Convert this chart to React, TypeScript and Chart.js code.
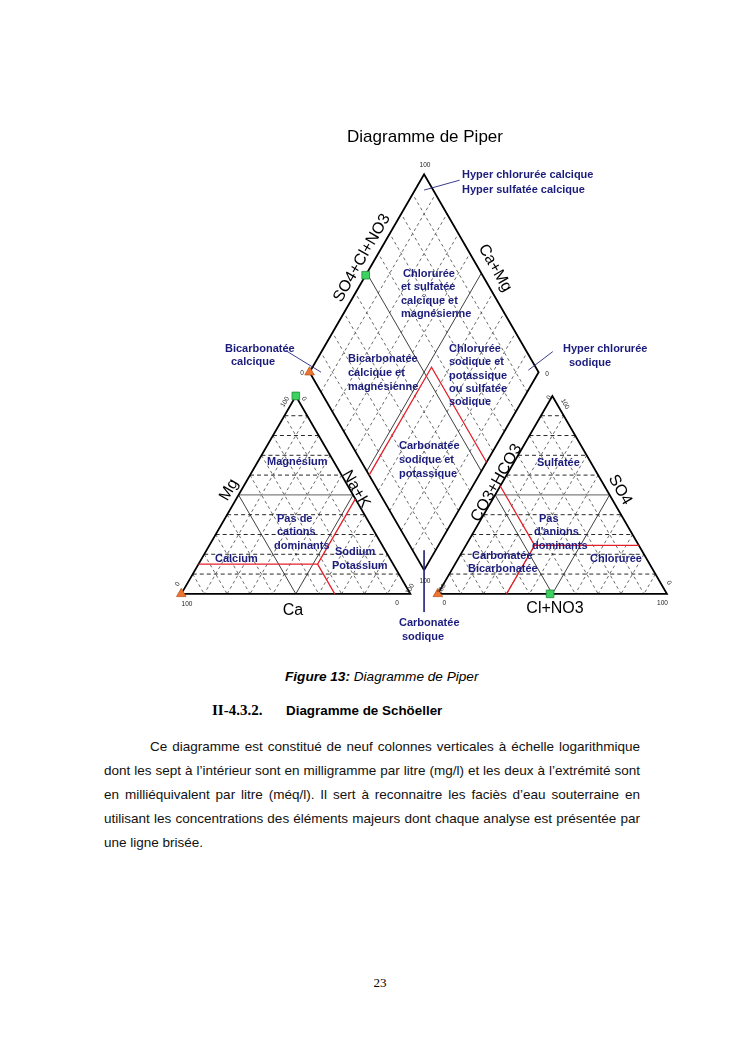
import React, { useEffect, useRef } from "react";
import { Chart, registerables } from "chart.js";

Chart.register(...registerables);

// ---------------- data ----------------
const gridTicks = [10, 20, 30, 40, 50, 60, 70, 80, 90];
const midTick = 50;
const cationAxisTitles = ["Ca", "Mg", "Na+K"];
const anionAxisTitles = ["CO3+HCO3", "SO4", "Cl+NO3"];
const diamondAxisTitles = ["SO4+Cl+NO3", "Ca+Mg", "Na+K", "CO3+HCO3"];

// samples, % meq/l
const sampleCa = [0, 100];
const sampleMg = [100, 0];
const sampleNaK = [0, 0];
const sampleCO3HCO3 = [51, 100];
const sampleSO4 = [0, 0];
const sampleClNO3 = [49, 0];

// red facies boundaries: junction points (%)
const cationJunction = [33, 15, 52]; // Ca, Mg, Na+K
const anionJunction = [45.5, 24.5, 30]; // CO3+HCO3, SO4, Cl+NO3

// ---------------- geometry (triangle side = 100 units) ----------------
const K = 2.33; // px per unit
const ORIGIN_X = 178;
const ORIGIN_Y = 599;
const CW = 745;
const CH = 660;
const H = Math.sqrt(3) / 2;
const GAP = 12;
const RX = 100 + GAP;
const BX = 100 + GAP / 2;
const BY = GAP * H;

type Pt = { x: number; y: number | null };
const cat = (ca: number, mg: number, nak: number): Pt => ({ x: nak + mg / 2, y: mg * H });
const an = (co3: number, so4: number, cl: number): Pt => ({ x: RX + cl + so4 / 2, y: so4 * H });
const dia = (a: number, b: number): Pt => ({ x: BX + (b - a) / 2, y: BY + (a + b) * H });
const BRK: Pt = { x: 0, y: null };
const segs = (list: Pt[][]) => {
  const out: Pt[] = [];
  list.forEach((poly) => {
    poly.forEach((p) => out.push(p));
    out.push(BRK);
  });
  return out;
};

function buildDatasets() {
  const dashed = gridTicks.filter((t) => t !== midTick);
  const horiz: Pt[][] = [];
  const diag: Pt[][] = [];
  dashed.forEach((t) => {
    horiz.push([cat(100 - t, t, 0), cat(0, t, 100 - t)]);
    horiz.push([an(100 - t, t, 0), an(0, t, 100 - t)]);
    diag.push([cat(t, 100 - t, 0), cat(t, 0, 100 - t)]);
    diag.push([cat(0, 100 - t, t), cat(100 - t, 0, t)]);
    diag.push([an(t, 100 - t, 0), an(t, 0, 100 - t)]);
    diag.push([an(0, 100 - t, t), an(100 - t, 0, t)]);
    diag.push([dia(t, 0), dia(t, 100)]);
    diag.push([dia(0, t), dia(100, t)]);
  });
  const m = midTick;
  const midH = [
    [cat(100 - m, m, 0), cat(0, m, 100 - m)],
    [an(100 - m, m, 0), an(0, m, 100 - m)],
  ];
  const midD = [
    [cat(m, 100 - m, 0), cat(m, 0, 100 - m)],
    [cat(0, 100 - m, m), cat(100 - m, 0, m)],
    [an(m, 100 - m, 0), an(m, 0, 100 - m)],
    [an(0, 100 - m, m), an(100 - m, 0, m)],
    [dia(m, 0), dia(m, 100)],
    [dia(0, m), dia(100, m)],
  ];
  const outline = [
    [cat(100, 0, 0), cat(0, 0, 100), cat(0, 100, 0), cat(100, 0, 0)],
    [an(100, 0, 0), an(0, 0, 100), an(0, 100, 0), an(100, 0, 0)],
    [dia(0, 0), dia(100, 0), dia(100, 100), dia(0, 100), dia(0, 0)],
  ];
  const [cj, mj, nj] = cationJunction;
  const [aj, sj, lj] = anionJunction;
  const JC = cat(cj, mj, nj);
  const JA = an(aj, sj, lj);
  const aR = 100 - nj;
  const bR = 100 - aj;
  const red = [
    [cat(100 - mj, mj, 0), JC],
    [JC, cat(cj, 0, 100 - cj)],
    [JC, cat(0, 100 - nj, nj)],
    [an(aj, 100 - aj, 0), JA],
    [JA, an(0, sj, 100 - sj)],
    [JA, an(100 - lj, 0, lj)],
    [dia(aR, 0), dia(aR, bR), dia(0, bR)],
  ];
  const leaders = [
    [dia(96, 96), dia(83, 114)],
    [dia(5, 96), dia(-1, 111.4)],
    [dia(95, 5), dia(116, -5)],
    [dia(5, 5), dia(-10.6, -10.6)],
  ];
  const catPts = sampleCa.map((c, i) => cat(c, sampleMg[i], sampleNaK[i]));
  const anPts = sampleCO3HCO3.map((c, i) => an(c, sampleSO4[i], sampleClNO3[i]));
  const diaPts = sampleCa.map((c, i) => dia(c + sampleMg[i], sampleSO4[i] + sampleClNO3[i]));
  const all = [...catPts, ...anPts, ...diaPts];
  const isGreen = (i: number) => i % 2 === 0;
  const green = all.filter((_, i) => isGreen(i));
  const orange = all.filter((_, i) => !isGreen(i));

  const line = (data: Pt[], color: string, width: number, dash: number[] = []) => ({
    data,
    showLine: true,
    borderColor: color,
    borderWidth: width,
    borderDash: dash,
    pointRadius: 0,
    fill: false,
    spanGaps: false,
  });
  return [
    {
      data: green,
      showLine: false,
      pointStyle: "rect",
      pointRadius: 5.4,
      backgroundColor: "#3dd160",
      borderColor: "#1f8a3a",
      borderWidth: 0.8,
    },
    {
      data: orange,
      showLine: false,
      pointStyle: "triangle",
      pointRadius: 5.5,
      backgroundColor: "#ec7530",
      borderColor: "#c0561c",
      borderWidth: 0.8,
    },
    line(segs(red), "#e3202a", 1.3),
    line(segs(leaders), "#26267e", 0.9),
    line(segs(outline), "#000000", 1.8),
    line(segs(midD), "#2a2a2a", 0.9),
    line(segs(midH), "#808080", 1.3),
    line(segs(horiz), "#111111", 0.9, [4, 3]),
    line(segs(diag), "#444444", 0.8, [3, 3]),
  ];
}

// ---------------- annotation layout (page px) ----------------
const SANS = '"Liberation Sans", Arial, Helvetica, sans-serif';
const NAVY = "#1c1c7c";
type Lab = { t: string; x: number; y: number; font: string; color: string; align: CanvasTextAlign; base: CanvasTextBaseline; rot?: number };
const RF = `bold 11px ${SANS}`;
const region = (t: string, x: number, y: number): Lab => ({ t, x, y, font: RF, color: NAVY, align: "left", base: "alphabetic" });
const AF = `16px ${SANS}`;
const axis = (t: string, x: number, y: number, rot: number): Lab => ({ t, x, y, font: AF, color: "#000", align: "center", base: "middle", rot });
const TF = `6.5px ${SANS}`;
const tick = (t: string, x: number, y: number, rot = 0): Lab => ({ t, x, y, font: TF, color: "#222", align: "center", base: "middle", rot });

const LABELS: Lab[] = [
  { t: "Diagramme de Piper", x: 425, y: 142, font: `17px ${SANS}`, color: "#000", align: "center", base: "alphabetic" },
  region("Hyper chlorurée calcique", 462, 178),
  region("Hyper sulfatée calcique", 462, 193),
  region("Chlorurée", 403, 277),
  region("et sulfatée", 401, 290),
  region("calcique et", 401, 304),
  region("magnésienne", 401, 317),
  region("Bicarbonatée", 348, 362),
  region("calcique et", 348, 376),
  region("magnésienne", 348, 390),
  region("Chlorurée", 449, 352),
  region("sodique et", 449, 365),
  region("potassique", 449, 379),
  region("ou sulfatée", 449, 392),
  region("sodique", 449, 405),
  region("Carbonatée", 399, 449),
  region("sodique et", 399, 463),
  region("potassique", 399, 477),
  region("Bicarbonatée", 225, 352),
  region("calcique", 231, 365),
  region("Hyper chlorurée", 563, 352),
  region("sodique", 569, 366),
  region("Carbonatée", 399, 626),
  region("sodique", 402, 640),
  region("Magnésium", 267, 465),
  region("Pas de", 277, 522),
  region("cations", 277, 535),
  region("dominants", 274, 549),
  region("Calcium", 215, 562),
  region("Sodium", 335, 555),
  region("Potassium", 332, 569),
  region("Sulfatée", 537, 466),
  region("Pas", 539, 522),
  region("d'anions", 534, 535),
  region("dominants", 532, 549),
  region("Chlorurée", 590, 562),
  region("Carbonatée", 472, 559),
  region("Bicarbonatée", 468, 572),
  axis(diamondAxisTitles[0], 362, 258, -60),
  axis(diamondAxisTitles[1], 495, 268, 60),
  axis(diamondAxisTitles[2], 356, 489, 60),
  axis(diamondAxisTitles[3], 496.5, 483, -60),
  axis(cationAxisTitles[1], 229, 490, -60),
  axis(anionAxisTitles[1], 620, 490, 60),
  { t: cationAxisTitles[0], x: 293, y: 614.5, font: AF, color: "#000", align: "center", base: "alphabetic" },
  { t: anionAxisTitles[2], x: 555, y: 613, font: AF, color: "#000", align: "center", base: "alphabetic" },
  tick("100", 425, 165.5),
  tick("0", 302, 373.5),
  tick("0", 547, 374),
  tick("100", 425, 581.5),
  tick("100", 187, 604.5),
  tick("0", 397, 603.7),
  tick("0", 177.5, 584, -60),
  tick("100", 410, 589, -60),
  tick("100", 285, 402, -60),
  tick("0", 304, 399, 60),
  tick("100", 441.7, 589, -60),
  tick("0", 444.3, 603),
  tick("0", 549, 397.5, -60),
  tick("100", 565, 404, 60),
  tick("0", 669, 583, 60),
  tick("100", 662.5, 603),
];

const textPlugin = {
  id: "piperText",
  afterDatasetsDraw(chart: any) {
    const ctx: CanvasRenderingContext2D = chart.ctx;
    LABELS.forEach((l) => {
      ctx.save();
      ctx.font = l.font;
      ctx.fillStyle = l.color;
      ctx.textAlign = l.align;
      ctx.textBaseline = l.base;
      ctx.translate(l.x, l.y);
      if (l.rot) ctx.rotate((l.rot * Math.PI) / 180);
      ctx.fillText(l.t, 0, 0);
      ctx.restore();
    });
  },
};

const paragraphLines = [
  "Ce diagramme est constitué de neuf colonnes verticales à échelle logarithmique",
  "dont les sept à l’intérieur sont en milligramme par litre (mg/l) et les deux à l’extrémité sont",
  "en milliéquivalent par litre (méq/l). Il sert à reconnaitre les faciès d’eau souterraine en",
  "utilisant les concentrations des éléments majeurs dont chaque analyse est présentée par",
  "une ligne brisée.",
];

export default function App() {
  const ref = useRef<HTMLCanvasElement | null>(null);
  useEffect(() => {
    if (!ref.current) return;
    const chart = new Chart(ref.current, {
      type: "scatter",
      data: { datasets: buildDatasets() as any },
      options: {
        animation: false,
        responsive: false,
        maintainAspectRatio: false,
        devicePixelRatio: 1,
        events: [],
        layout: { padding: 0 },
        plugins: { legend: { display: false }, tooltip: { enabled: false } },
        scales: {
          x: { type: "linear", display: false, min: -ORIGIN_X / K, max: (CW - ORIGIN_X) / K },
          y: { type: "linear", display: false, min: (ORIGIN_Y - CH) / K, max: ORIGIN_Y / K },
        },
      },
      plugins: [textPlugin],
    } as any);
    return () => chart.destroy();
  }, []);

  const lineTops = [738.5, 762.5, 786.5, 810.5, 834.5];
  return (
    <div style={{ position: "absolute", left: 0, top: 0, width: 745, height: 1053, background: "#fff", overflow: "hidden" }}>
      <canvas ref={ref} width={CW} height={CH} style={{ position: "absolute", left: 0, top: 0, width: CW, height: CH }} />
      <div style={{ position: "absolute", left: 285, top: 669, fontFamily: SANS, fontSize: 13.6, lineHeight: "16px", fontStyle: "italic", whiteSpace: "nowrap", color: "#000" }}>
        <b>Figure 13:</b> Diagramme de Piper
      </div>
      <div style={{ position: "absolute", left: 212, top: 702, fontFamily: '"Liberation Serif", "Times New Roman", serif', fontSize: 15, lineHeight: "16px", fontWeight: "bold", whiteSpace: "nowrap", color: "#000" }}>
        II-4.3.2.
      </div>
      <div style={{ position: "absolute", left: 286, top: 703, fontFamily: SANS, fontSize: 13.4, lineHeight: "16px", fontWeight: "bold", whiteSpace: "nowrap", color: "#000" }}>
        Diagramme de Schöeller
      </div>
      {paragraphLines.map((t, i) => {
        const last = i === paragraphLines.length - 1;
        return (
          <div
            key={i}
            style={{
              position: "absolute",
              left: i === 0 ? 150 : 104,
              top: lineTops[i],
              width: i === 0 ? 490 : 536,
              fontFamily: SANS,
              fontSize: 13.5,
              lineHeight: "16px",
              color: "#111",
              whiteSpace: "nowrap",
              textAlign: last ? "left" : "justify",
              textAlignLast: last ? "left" : "justify",
            }}
          >
            {t}
          </div>
        );
      })}
      <div style={{ position: "absolute", left: 0, width: 760, top: 975, textAlign: "center", fontFamily: '"Liberation Serif", "Times New Roman", serif', fontSize: 13, lineHeight: "16px", color: "#000" }}>
        23
      </div>
    </div>
  );
}
